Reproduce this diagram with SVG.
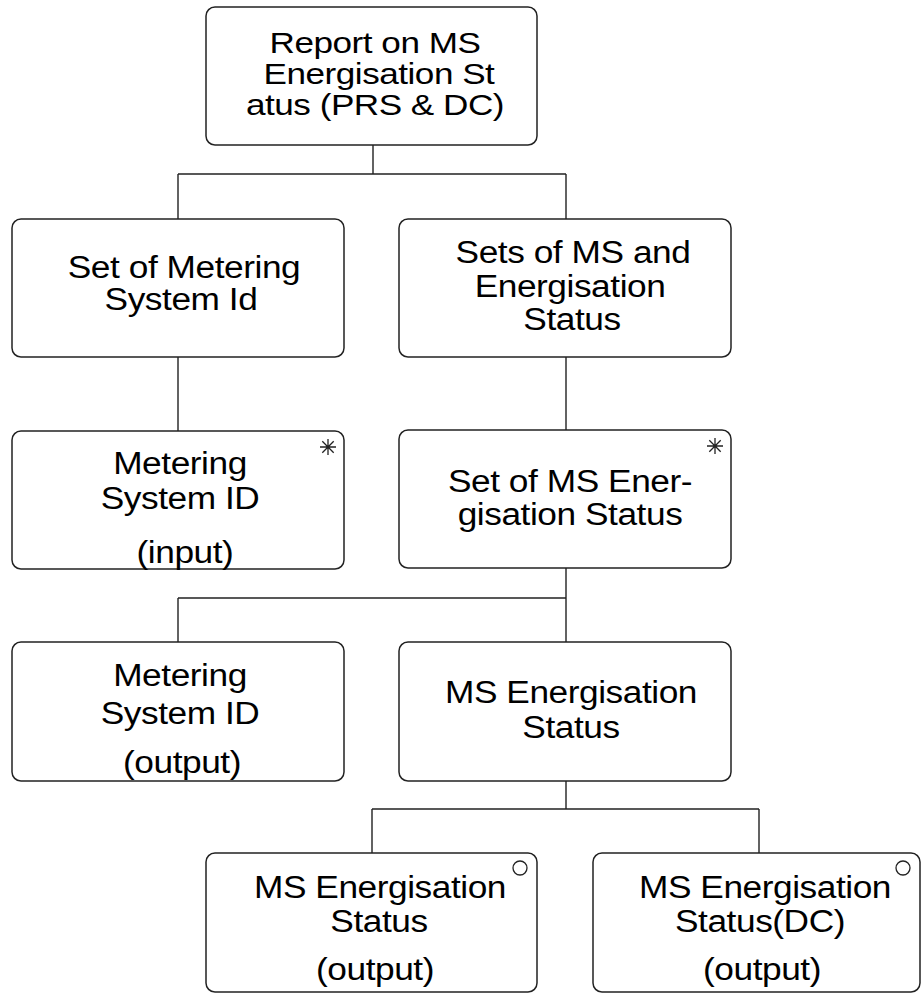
<svg xmlns="http://www.w3.org/2000/svg" width="921" height="994" viewBox="0 0 921 994">
<style>
.box{fill:#fff;stroke:#222;stroke-width:1.5}
.t{font-family:"Liberation Sans",Arial,sans-serif;font-size:31.5px;fill:#000;text-anchor:middle;letter-spacing:-0.4px}
.tt{font-family:"Liberation Sans",Arial,sans-serif;font-size:29.5px;fill:#000;text-anchor:middle;letter-spacing:-0.4px}
.c{fill:none;stroke:#222;stroke-width:1.4}
.m{fill:none;stroke:#222;stroke-width:1.3}
</style>
<defs>
<g id="ast"><path class="m" d="M0,-8V8M-8,0H8M-5.7,-5.7L5.7,5.7M-5.7,5.7L5.7,-5.7"/></g>
</defs>
<rect width="921" height="994" fill="#fff"/>
<g id="connectors">
<path class="c" d="M373,145V174M178,174H566M178,174V219M566,174V219"/>
<path class="c" d="M178,357V431M566,357V430"/>
<path class="c" d="M566,568V642M178,598H566M178,598V642"/>
<path class="c" d="M566,781V809M372,809H759M372,809V853M759,809V853"/>
</g>
<g id="n1">
<rect class="box" x="206" y="7" width="331" height="138" rx="9"/>
<text class="tt" transform="translate(375,53) scale(1.19,1)">Report on MS</text>
<text class="tt" transform="translate(379,84) scale(1.19,1)">Energisation St</text>
<text class="tt" transform="translate(375,115) scale(1.19,1)">atus (PRS &amp; DC)</text>
</g>
<g id="n2">
<rect class="box" x="12" y="219" width="332" height="138" rx="9"/>
<text class="t" transform="translate(184,278) scale(1.12,1)">Set of Metering</text>
<text class="t" transform="translate(181,310) scale(1.12,1)">System Id</text>
</g>
<g id="n3">
<rect class="box" x="399" y="219" width="332" height="138" rx="9"/>
<text class="t" transform="translate(573,263) scale(1.12,1)">Sets of MS and</text>
<text class="t" transform="translate(570,297) scale(1.12,1)">Energisation</text>
<text class="t" transform="translate(572,330) scale(1.12,1)">Status</text>
</g>
<g id="n4">
<rect class="box" x="12" y="431" width="332" height="138" rx="9"/>
<text class="t" transform="translate(180,474) scale(1.12,1)">Metering</text>
<text class="t" transform="translate(180,509) scale(1.12,1)">System ID</text>
<text class="t" transform="translate(185,563) scale(1.12,1)">(input)</text>
<use href="#ast" x="328" y="447"/>
</g>
<g id="n5">
<rect class="box" x="399" y="430" width="332" height="138" rx="9"/>
<text class="t" transform="translate(570,492) scale(1.12,1)">Set of MS Ener-</text>
<text class="t" transform="translate(570,525) scale(1.12,1)">gisation Status</text>
<use href="#ast" x="715" y="446"/>
</g>
<g id="n6">
<rect class="box" x="12" y="642" width="332" height="139" rx="9"/>
<text class="t" transform="translate(180,686) scale(1.12,1)">Metering</text>
<text class="t" transform="translate(180,724) scale(1.12,1)">System ID</text>
<text class="t" transform="translate(182,773) scale(1.12,1)">(output)</text>
</g>
<g id="n7">
<rect class="box" x="399" y="642" width="332" height="139" rx="9"/>
<text class="t" transform="translate(571,703) scale(1.12,1)">MS Energisation</text>
<text class="t" transform="translate(571,738) scale(1.12,1)">Status</text>
</g>
<g id="n8">
<rect class="box" x="206" y="853" width="331" height="139" rx="9"/>
<text class="t" transform="translate(380,898) scale(1.12,1)">MS Energisation</text>
<text class="t" transform="translate(379,932) scale(1.12,1)">Status</text>
<text class="t" transform="translate(375,980) scale(1.12,1)">(output)</text>
<circle class="m" cx="520" cy="868" r="7"/>
</g>
<g id="n9">
<rect class="box" x="593" y="853" width="327" height="139" rx="9"/>
<text class="t" transform="translate(765,898) scale(1.12,1)">MS Energisation</text>
<text class="t" transform="translate(760,932) scale(1.12,1)">Status(DC)</text>
<text class="t" transform="translate(762,980) scale(1.12,1)">(output)</text>
<circle class="m" cx="903" cy="868" r="7"/>
</g>
</svg>
